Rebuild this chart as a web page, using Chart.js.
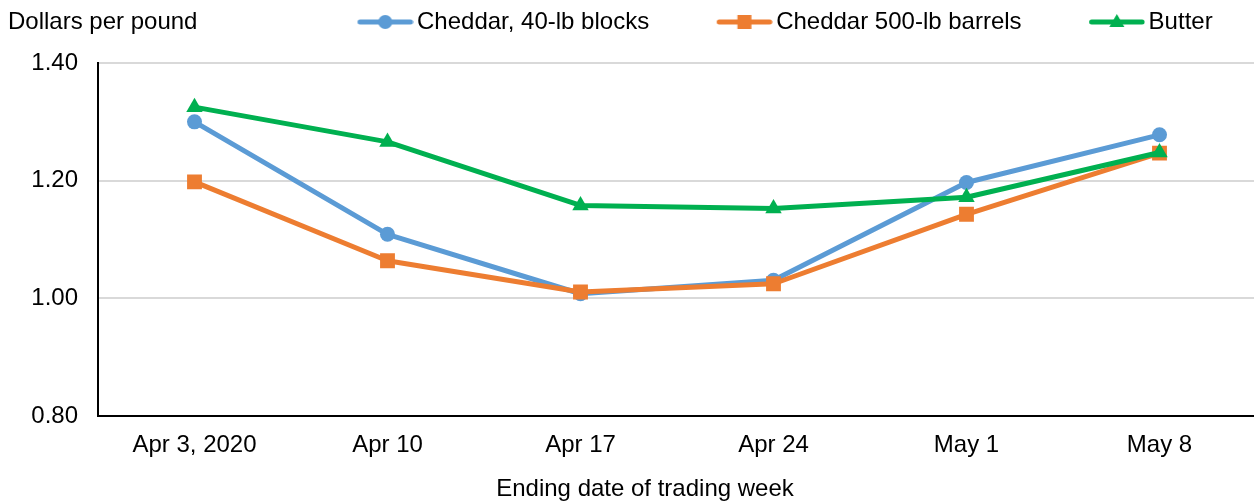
<!DOCTYPE html>
<html>
<head>
<meta charset="utf-8">
<title>Cheddar and butter prices</title>
<script src="https://cdn.jsdelivr.net/npm/chart.js@4.4.0/dist/chart.umd.min.js"></script>
<style>
    html, body { margin: 0; padding: 0; background: #fff; overflow: hidden; }
    #chart-wrap { width: 1256px; height: 503px; }
</style>
</head>
<body>
<div id="chart-wrap"><canvas id="priceChart" width="1256" height="503"></canvas></div>
<script>
// Weekly spot prices, dollars per pound
const weeks = ['Apr 3, 2020', 'Apr 10', 'Apr 17', 'Apr 24', 'May 1', 'May 8'];
const cheddarBlocks = [1.300, 1.109, 1.008, 1.031, 1.197, 1.278];
const cheddarBarrels = [1.198, 1.064, 1.011, 1.025, 1.143, 1.247];
const butter = [1.325, 1.266, 1.158, 1.153, 1.172, 1.248];
const yTicks = [0.80, 1.00, 1.20, 1.40];

const FONT_FAMILY = '"Liberation Sans", Arial, sans-serif';
const FONT_SIZE = 24;
const font = { family: FONT_FAMILY, size: FONT_SIZE };

const COLORS = {
    blocks: '#5B9BD5',
    barrels: '#ED7D31',
    butter: '#00B050',
    grid: '#D9D9D9',
    axis: '#000000',
    text: '#000000',
};

/**
 * Legend swatch: short line with the marker in the middle.
 * Left part of the image is blank so the items get spaced out.
 */
function makeLegendIcon(color, shape) {
    const c = document.createElement('canvas');
    c.width = 122;
    c.height = 20;
    const ctx = c.getContext('2d');
    const y = 10, x0 = 68.5, x1 = 119, mid = (x0 + x1) / 2;

    ctx.strokeStyle = color;
    ctx.lineWidth = 5;
    ctx.lineCap = 'round';
    ctx.beginPath();
    ctx.moveTo(x0, y);
    ctx.lineTo(x1, y);
    ctx.stroke();

    ctx.fillStyle = color;
    ctx.beginPath();
    if (shape === 'circle') {
        ctx.arc(mid, y, 7, 0, Math.PI * 2);
    } else if (shape === 'rect') {
        ctx.rect(mid - 7, y - 7, 14, 14);
    } else {
        ctx.moveTo(mid, y - 8);
        ctx.lineTo(mid + 7.5, y + 5);
        ctx.lineTo(mid - 7.5, y + 5);
        ctx.closePath();
    }
    ctx.fill();
    return c;
}

// Legend sits in the top row, to the right of the unit label
const legendPlacement = {
    id: 'legendPlacement',
    beforeInit(chart) {
        const legend = chart.legend;
        const fit = legend.fit;
        legend.fit = function () {
            fit.call(this);
            this.height = 63;
        };
    },
    afterLayout(chart) {
        const legend = chart.legend;
        const dx = 290 - legend.left;
        legend.left += dx;
        legend.right += dx;
    }
};

// Axis captions: unit label top-left, x caption under the tick labels
const captions = {
    id: 'captions',
    afterDraw(chart, args, opts) {
        const ctx = chart.ctx;
        ctx.save();
        ctx.font = `${FONT_SIZE}px ${FONT_FAMILY}`;
        ctx.fillStyle = COLORS.text;
        ctx.textBaseline = 'middle';
        ctx.textAlign = 'left';
        ctx.fillText(opts.yText, 8, 22);
        ctx.textAlign = 'center';
        ctx.fillText(opts.xText, 645, 489);
        ctx.restore();
    }
};

function lineDataset(label, data, color, shape, radius, order) {
    return {
        label: label,
        data: data,
        borderColor: color,
        backgroundColor: color,
        borderWidth: 5,
        borderJoinStyle: 'round',
        tension: 0,
        fill: false,
        pointStyle: shape,
        pointRadius: radius,
        pointHoverRadius: radius,
        pointBackgroundColor: color,
        pointBorderWidth: 0,
        order: order,
        legendIcon: makeLegendIcon(color, shape),
    };
}

const ctx = document.getElementById('priceChart').getContext('2d');

const chart = new Chart(ctx, {
    type: 'line',
    data: {
        labels: weeks,
        datasets: [
            lineDataset('Cheddar, 40-lb blocks', cheddarBlocks, COLORS.blocks, 'circle', 7.5, 3),
            lineDataset('Cheddar 500-lb barrels', cheddarBarrels, COLORS.barrels, 'rect', 10.5, 2),
            lineDataset('Butter', butter, COLORS.butter, 'triangle', 9.5, 1),
        ],
    },
    options: {
        responsive: false,
        animation: false,
        devicePixelRatio: 1,
        layout: {
            autoPadding: false,
            padding: { left: 0, right: 0, top: 0, bottom: 28 },
        },
        plugins: {
            legend: {
                position: 'top',
                align: 'start',
                labels: {
                    color: COLORS.text,
                    font: font,
                    padding: 10,
                    usePointStyle: true,
                    pointStyleWidth: 105,
                    generateLabels: (chart) => chart.data.datasets.map((ds, i) => ({
                        text: ds.label,
                        datasetIndex: i,
                        pointStyle: ds.legendIcon,
                        fillStyle: ds.borderColor,
                        strokeStyle: ds.borderColor,
                        lineWidth: 0,
                        hidden: !chart.isDatasetVisible(i),
                    })),
                },
            },
            tooltip: { enabled: false },
            captions: {
                yText: 'Dollars per pound',
                xText: 'Ending date of trading week',
            },
        },
        scales: {
            x: {
                offset: true,
                grid: { display: false, drawTicks: false },
                border: { color: COLORS.axis, width: 2 },
                ticks: { color: COLORS.text, font: font, padding: 15, maxRotation: 0 },
            },
            y: {
                min: yTicks[0],
                max: yTicks[yTicks.length - 1],
                afterFit: (scale) => { scale.width = 98; },
                afterBuildTicks: (scale) => {
                    scale.ticks = yTicks.map(v => ({ value: v }));
                },
                grid: { color: COLORS.grid, lineWidth: 2, drawTicks: false },
                border: { color: COLORS.axis, width: 2 },
                ticks: {
                    color: COLORS.text,
                    font: font,
                    padding: 20,
                    callback: (v) => Number(v).toFixed(2),
                },
            },
        },
    },
    plugins: [legendPlacement, captions],
});
</script>
</body>
</html>
